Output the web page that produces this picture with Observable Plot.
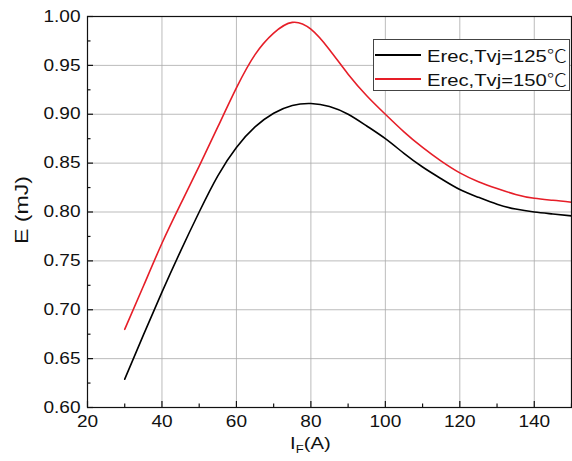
<!DOCTYPE html>
<html>
<head>
<meta charset="utf-8">
<script src="https://cdn.jsdelivr.net/npm/d3@7"></script>
<script src="https://cdn.jsdelivr.net/npm/@observablehq/plot@0.6"></script>
<style>
  html, body { margin: 0; padding: 0; background: #fff; }
  #wrap { position: relative; width: 572px; height: 461px; font-family: "Liberation Sans", Arial, sans-serif; color: #111; }
  #legend { position: absolute; left: 373px; top: 39px; width: 197px; height: 52px; border: 1px solid #444; background: #fff; box-sizing: border-box; }
  .lg { position: absolute; left: 0; height: 24px; }
  .lg .sw { position: absolute; left: 1px; top: 11px; width: 46px; height: 0; border-top: 2px solid; }
  .lg .tx { position: absolute; left: 53px; top: 1px; font-size: 17px; line-height: 22px; white-space: nowrap; transform: scaleX(1.19); transform-origin: 0 50%; }
  .cjk { font-family: "Noto Sans CJK SC", sans-serif; font-weight: 300; }
  #xlabel { position: absolute; left: 290px; top: 433px; font-size: 17px; line-height: 22px; white-space: nowrap; transform: scaleX(1.19); transform-origin: 0 50%; }
  #xlabel sub { font-size: 11px; vertical-align: -4px; line-height: 0; }
  #ylabel { position: absolute; left: 22px; top: 210px; font-size: 18.5px; white-space: nowrap; transform: translate(-50%, -50%) rotate(-90deg) scale(1.25, 1); }
</style>
</head>
<body>
<div id="wrap">
  <div id="chart"></div>
  <div id="legend"></div>
  <div id="xlabel">I<sub>F</sub>(A)</div>
  <div id="ylabel">E (mJ)</div>
</div>
<script>
const current = [30,35,40,45,50,55,60,65,70,75,80,85,90,95,100,105,110,115,120,125,130,135,140,145,150];
const erec125 = [0.629,0.674,0.718,0.760,0.800,0.837,0.866,0.887,0.901,0.909,0.911,0.908,0.900,0.888,0.875,0.860,0.846,0.834,0.823,0.815,0.808,0.803,0.800,0.798,0.796];
const erec150 = [0.680,0.724,0.768,0.808,0.847,0.887,0.927,0.961,0.983,0.994,0.987,0.966,0.941,0.919,0.900,0.882,0.866,0.852,0.840,0.831,0.824,0.818,0.814,0.812,0.810];
const seriesNames = ["Erec,Tvj=125", "Erec,Tvj=150"];
const unit = "\u2103";
const seriesColors = ["#000000", "#e61e28"];
const xTicks = [20,40,60,80,100,120,140];
const xMinor = [30,50,70,90,110,130,150];
const yTicks = [0.60,0.65,0.70,0.75,0.80,0.85,0.90,0.95,1.00];
const yMinor = [0.625,0.675,0.725,0.775,0.825,0.875,0.925,0.975];

const data = [];
current.forEach((x, i) => {
  data.push({x, y: erec125[i], s: seriesNames[0]});
  data.push({x, y: erec150[i], s: seriesNames[1]});
});

const chart = Plot.plot({
  width: 572,
  height: 461,
  marginLeft: 87,
  marginRight: 1,
  marginTop: 16,
  marginBottom: 54,
  style: {fontFamily: "Liberation Sans, Arial, sans-serif", fontSize: "16px", color: "#111", background: "#fff"},
  x: {domain: [20, 150]},
  y: {domain: [0.6, 1.0]},
  color: {domain: seriesNames, range: seriesColors},
  marks: [
    Plot.gridX(xTicks.slice(1), {stroke: "#aaa", strokeOpacity: 0.8, strokeWidth: 1}),
    Plot.gridY(yTicks.slice(1, -1), {stroke: "#aaa", strokeOpacity: 0.8, strokeWidth: 1}),
    Plot.line(data, {x: "x", y: "y", z: "s", stroke: "s", strokeWidth: 1.6, curve: "natural"}),
    Plot.frame({stroke: "#111", strokeWidth: 1.2}),
    Plot.axisX(xTicks, {tickSize: -6, tickPadding: 14, tickFormat: d => d, label: null, stroke: "#111", strokeWidth: 1.2, fontSize: 16}),
    Plot.axisX(xMinor, {tickSize: -3.5, text: null, label: null, stroke: "#111", strokeWidth: 1.2}),
    Plot.axisY(yTicks, {tickSize: -6, tickPadding: 13, tickFormat: d3.format(".2f"), label: null, stroke: "#111", strokeWidth: 1.2, fontSize: 16}),
    Plot.axisY(yMinor, {tickSize: -3.5, text: null, label: null, stroke: "#111", strokeWidth: 1.2})
  ]
});
document.getElementById("chart").appendChild(chart);

// widen tick label glyphs to match the reference's wide type
chart.querySelectorAll("text").forEach(el => {
  const w = el.getComputedTextLength();
  if (w > 0) {
    el.setAttribute("textLength", (w * 1.19).toFixed(2));
    el.setAttribute("lengthAdjust", "spacingAndGlyphs");
  }
});

const lg = document.getElementById("legend");
seriesNames.forEach((name, i) => {
  const row = document.createElement("div");
  row.className = "lg";
  row.style.top = (3 + i * 24) + "px";
  const sw = document.createElement("div");
  sw.className = "sw";
  sw.style.borderTopColor = seriesColors[i];
  row.appendChild(sw);
  const tx = document.createElement("div");
  tx.className = "tx";
  tx.appendChild(document.createTextNode(name));
  const u = document.createElement("span");
  u.className = "cjk";
  u.textContent = unit;
  tx.appendChild(u);
  row.appendChild(tx);
  lg.appendChild(row);
});
</script>
</body>
</html>
